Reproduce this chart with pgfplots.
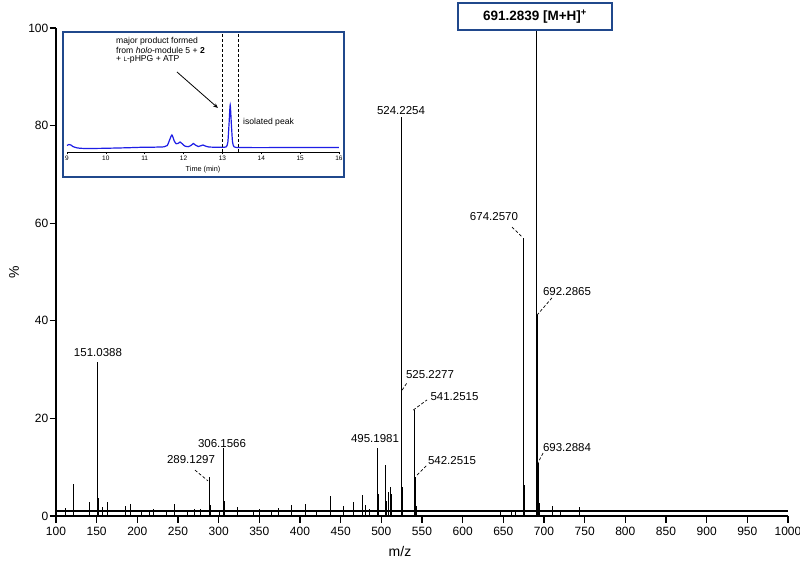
\documentclass[border=0pt]{standalone}
\usepackage{pgfplots}
\pgfplotsset{compat=1.18}
\usepackage{fontspec}
\setmainfont{Liberation Sans}
\usetikzlibrary{arrows.meta}
\definecolor{boxblue}{RGB}{32,72,140}
\definecolor{traceblue}{RGB}{30,30,230}
\begin{document}
\begin{tikzpicture}[
  peak/.style={font=\fontsize{11.5}{13}\selectfont, inner sep=0pt},
  lead/.style={densely dashed, line width=0.7pt}]
\useasboundingbox (0pt,0pt) rectangle (800pt,568pt);
\begin{axis}[
  at={(56pt,52pt)}, anchor=south west,
  scale only axis, width=732pt, height=488pt,
  xmin=100, xmax=1000, ymin=0, ymax=100,
  axis x line*=bottom, axis y line*=left,
  axis line style={line width=1.6pt, -},
  xtick={100,150,...,1000}, ytick={0,20,...,100},
  tick align=outside, major tick length=6.5pt,
  tick style={line width=1.3pt, black},
  tick label style={font=\fontsize{12}{14}\selectfont},
  /pgf/number format/assume math mode=true,
  /pgf/number format/1000 sep={},
  xticklabel style={yshift=-1pt},
  yticklabel style={inner xsep=1pt},
  clip=false,
]
\addplot[black, line width=1.3pt] coordinates {(100,1.0) (1000,1.0)};
\addplot[ycomb, black, line width=0.9pt, mark=none] table {
x y
112 1.6
122 6.5
140.6 2.8
151.04 31.6
152 3.7
157 1.8
162.7 2.8
185 2.0
191.7 2.4
205 1.3
215 1.3
220 1.4
236 1.3
246 2.4
262 1.3
270 1.4
278 1.5
289.13 8.0
290 2.2
301 1.3
306.16 13.9
307 3.0
323 1.8
343 1.2
350 1.4
365 1.3
373 1.6
390 2.2
407 2.5
420 1.3
437 4.2
454 2.0
466 2.9
477 4.3
481 2.2
485 1.5
495.20 13.9
496 4.5
505 10.5
506 3.0
509 5.0
511 6.0
512 4.5
524.23 81.8
525.23 26.0
526 6.0
541.25 21.7
542.25 8.0
543 2.0
646 1.3
660 1.2
665 1.2
674.26 57.0
675 23.4
676 6.3
691.28 100
692.29 41.2
693.29 10.9
694 2.7
711 2.0
720 1.2
743 1.8
};
\node[peak] at (axis cs:151.6,33.4) {151.0388};
\node[peak] at (axis cs:266,11.5) {289.1297};
\draw[lead] (axis cs:270.9,9.4) -- (axis cs:286.9,7.2);
\node[peak] at (axis cs:304.1,14.75) {306.1566};
\node[peak] at (axis cs:492.2,15.8) {495.1981};
\node[peak] at (axis cs:524.2,83.0) {524.2254};
\node[peak] at (axis cs:559.9,28.9) {525.2277};
\draw[lead] (axis cs:525.6,25.8) -- (axis cs:531.6,27.3);
\node[peak] at (axis cs:590.0,24.4) {541.2515};
\draw[lead] (axis cs:539.2,21.7) -- (axis cs:556.2,23.8);
\node[peak] at (axis cs:586.9,11.3) {542.2515};
\draw[lead] (axis cs:543.9,8.4) -- (axis cs:556.2,10.45);
\node[peak] at (axis cs:638.5,61.3) {674.2570};
\draw[lead] (axis cs:660.7,59.2) -- (axis cs:673.0,57.2);
\node[peak] at (axis cs:728.3,45.9) {692.2865};
\draw[lead] (axis cs:709.8,44.7) -- (axis cs:691.6,41.2);
\node[peak] at (axis cs:728.3,14.1) {693.2884};
\draw[lead] (axis cs:698.8,12.9) -- (axis cs:692.6,10.9);
\end{axis}
% axis titles
\node[font=\fontsize{14}{16}\selectfont] at (400pt,17pt) {m/z};
\node[font=\fontsize{14}{16}\selectfont, rotate=90] at (14pt,296pt) {\%};
% top label box
\draw[boxblue, line width=2pt, fill=white] (458pt,538pt) rectangle (612pt,565pt);
\node[font=\fontsize{13.5}{15}\selectfont\bfseries] at (535pt,551.5pt) {691.2839 [M+H]\textsuperscript{+}};
% inset box
\draw[boxblue, line width=2pt, fill=white] (63pt,536pt) rectangle (344pt,391pt);
\begin{axis}[
  at={(67pt,416pt)}, anchor=south west,
  scale only axis, width=272pt, height=117pt,
  xmin=9, xmax=16, ymin=0, ymax=117,
  axis x line*=bottom, axis y line=none,
  axis line style={line width=0.8pt, -},
  xtick={9,...,16},
  tick align=outside, major tick length=2.5pt,
  tick style={line width=0.6pt, black},
  tick label style={font=\fontsize{6.5}{7}\selectfont, inner sep=1pt},
  /pgf/number format/assume math mode=true,
  xlabel={Time (min)},
  xlabel style={font=\fontsize{7.3}{8}\selectfont, inner sep=1pt, yshift=-4pt},
  clip=false,
]
\addplot[traceblue, line width=1.2pt, smooth, tension=0.4, mark=none] coordinates {
(9.0,6.5) (9.05,7.5) (9.1,7) (9.15,5.5) (9.25,4.2) (9.4,3.6) (9.8,3.6) (10.2,3.9) (10.6,4.3) (11.0,4.8) (11.2,4.8) (11.4,5.0) (11.5,5.2)
(11.58,6.5) (11.63,11) (11.7,17) (11.76,11) (11.81,8.3) (11.86,8.6) (11.91,10) (11.96,8.4) (12.03,6) (12.12,5.3) (12.2,6.8) (12.25,8.5) (12.31,6.8) (12.38,5.5) (12.45,6.3) (12.5,7) (12.56,6) (12.65,5)
(12.8,4.8) (13.0,4.8) (13.1,5.2) (13.14,10) (13.17,28) (13.2,47) (13.23,28) (13.26,10) (13.3,5.2) (13.4,4.5) (13.7,4.4) (14.5,4.4) (15.3,4.4) (16,4.4)
};
\draw[densely dashed, line width=0.7pt] (axis cs:13.0,0) -- (axis cs:13.0,119);
\draw[densely dashed, line width=0.7pt] (axis cs:13.4,0) -- (axis cs:13.4,119);
\end{axis}
\node[font=\fontsize{8.6}{9}\selectfont, anchor=west, inner sep=0pt] at (116pt,527pt) {major product formed};
\node[font=\fontsize{8.6}{9}\selectfont, anchor=west, inner sep=0pt] at (116pt,518pt) {from \textit{holo}-module 5 + \textbf{2}};
\node[font=\fontsize{8.6}{9}\selectfont, anchor=west, inner sep=0pt] at (116pt,509pt) {+ {\fontsize{6.3}{7}\selectfont L}-pHPG + ATP};
\node[font=\fontsize{8.6}{9}\selectfont, anchor=west, inner sep=0pt] at (243pt,446pt) {isolated peak};
\draw[-{Stealth[length=5pt,width=4pt]}, line width=0.8pt] (177pt,496pt) -- (218pt,460pt);
\end{tikzpicture}
\end{document}
